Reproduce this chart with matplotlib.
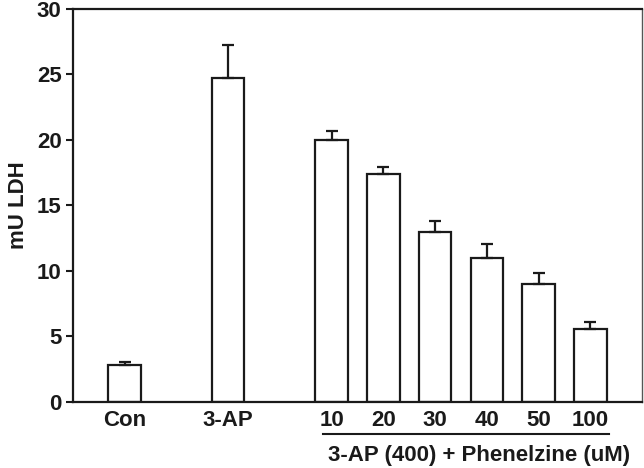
import numpy as np
import matplotlib
matplotlib.use('Agg')
import matplotlib.pyplot as plt
import matplotlib.transforms as mtransforms

# values
labels = ['Con', '3-AP', '10', '20', '30', '40', '50', '100']
positions = [1, 3, 5, 6, 7, 8, 9, 10]
ldh = [2.8, 24.7, 20.0, 17.4, 13.0, 11.0, 9.0, 5.6]
sem = [0.25, 2.55, 0.7, 0.55, 0.8, 1.05, 0.85, 0.5]

plt.rcParams['font.family'] = ['Liberation Sans', 'DejaVu Sans']
plt.rcParams['font.weight'] = 'bold'

fig = plt.figure(figsize=(6.44, 4.68), dpi=100)
ax = fig.add_axes([0.113, 0.141, 0.884, 0.840])

ink = '#1a1a1a'
ax.bar(positions, ldh, width=0.63, color='white', edgecolor=ink, linewidth=1.6,
       yerr=[np.zeros(len(sem)), sem], capsize=4.5,
       error_kw=dict(ecolor=ink, elinewidth=1.6, capthick=1.6))

ax.set_xlim(0, 11)
ax.set_ylim(0, 30)
ax.set_yticks([0, 5, 10, 15, 20, 25, 30])
ax.set_xticks(positions)
ax.set_xticklabels(labels)
ax.tick_params(axis='y', direction='out', length=5, width=1.5, colors=ink,
               labelsize=16, pad=3)
ax.tick_params(axis='x', length=0, labelsize=16, pad=6, colors=ink)
for s in ax.spines.values():
    s.set_linewidth(1.6)
    s.set_color(ink)
ax.spines['right'].set_linewidth(1.0)
ax.spines['right'].set_color('#555555')

ax.set_ylabel('mU LDH', fontsize=16, fontweight='bold', color=ink, labelpad=6)

# underline and group label for the phenelzine doses
trans = mtransforms.blended_transform_factory(ax.transData, ax.transAxes)
ax.plot([positions[2] - 0.17, positions[-1] + 0.37], [-0.082, -0.082],
        color=ink, lw=1.5, transform=trans, clip_on=False)
ax.text((positions[2] + positions[-1]) / 2 + 0.35, -0.135,
        '3-AP (400) + Phenelzine (uM)', transform=trans, ha='center', va='center',
        fontsize=16, fontweight='bold', color=ink)

fig.savefig('out.png', dpi=100, facecolor='white')
